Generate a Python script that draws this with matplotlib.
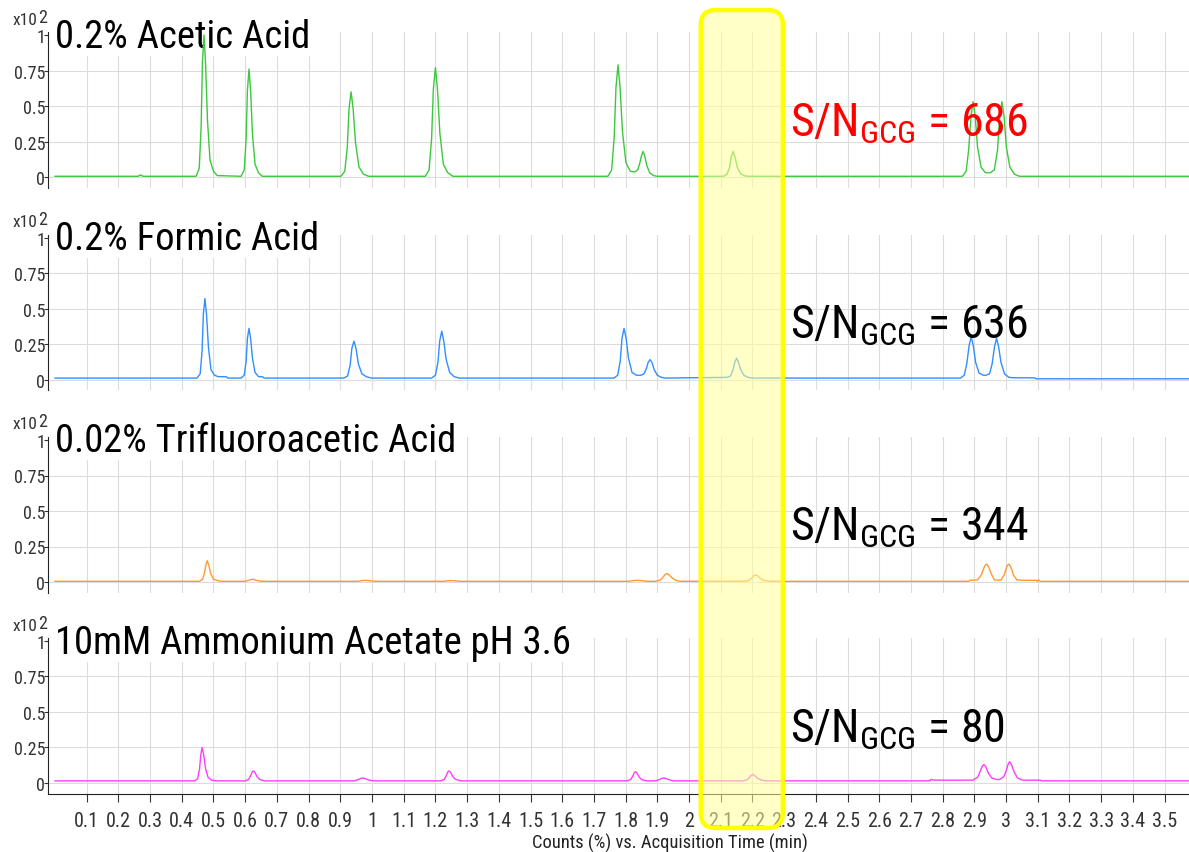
import matplotlib
matplotlib.use("Agg")
import matplotlib.pyplot as plt
from matplotlib.patches import FancyBboxPatch
from matplotlib.transforms import IdentityTransform

plt.rcParams["font.family"] = ["Roboto Condensed", "DejaVu Sans"]
plt.rcParams["mathtext.fontset"] = "custom"
plt.rcParams["mathtext.rm"] = "Roboto Condensed"

# ----------------------------------------------------
# Chromatogram traces (time in min, response x10^2 counts %)
# ----------------------------------------------------
names = ["0.2% Acetic Acid", "0.2% Formic Acid",
         "0.02% Trifluoroacetic Acid", "10mM Ammonium Acetate pH 3.6"]
sn_values = [686, 636, 344, 80]
colors = ["#3cc83c", "#2f8fff", "#ff9a2e", "#ff3cff"]
sn_colors = ["#ff0000", "#000000", "#000000", "#000000"]

acetic_t = [0.000, 0.262, 0.270, 0.278,
            0.445, 0.455, 0.461, 0.465, 0.470, 0.475, 0.481, 0.489, 0.500, 0.512,
            0.587, 0.597, 0.603, 0.607, 0.612, 0.617, 0.623, 0.631, 0.642, 0.654,
            0.902, 0.914, 0.922, 0.9275, 0.934, 0.9405, 0.948, 0.959, 0.973, 0.989,
            1.168, 1.180, 1.188, 1.1935, 1.200, 1.2065, 1.214, 1.225, 1.239, 1.255,
            1.744, 1.756, 1.764, 1.7695, 1.776, 1.7825, 1.790, 1.801, 1.815,
            1.828, 1.838, 1.845, 1.850, 1.855, 1.860, 1.867, 1.876, 1.888, 1.900,
            2.109, 2.120, 2.128, 2.133, 2.139, 2.145, 2.152, 2.162, 2.175, 2.188,
            2.862, 2.874, 2.882, 2.8895, 2.896, 2.9025, 2.910, 2.921, 2.935,
            2.950, 2.963, 2.973, 2.980, 2.987, 2.9935, 3.001, 3.012, 3.026, 3.042,
            3.580]
acetic_y = [0.005, 0.005, 0.015, 0.005,
            0.005, 0.06, 0.35, 0.80, 1.00, 0.80, 0.40, 0.12, 0.04, 0.01,
            0.005, 0.05, 0.27, 0.61, 0.76, 0.61, 0.30, 0.09, 0.03, 0.005,
            0.005, 0.04, 0.21, 0.48, 0.60, 0.48, 0.24, 0.07, 0.02, 0.005,
            0.005, 0.05, 0.27, 0.62, 0.77, 0.62, 0.31, 0.09, 0.03, 0.005,
            0.005, 0.05, 0.28, 0.63, 0.79, 0.63, 0.32, 0.10, 0.04,
            0.035, 0.05, 0.10, 0.15, 0.18, 0.15, 0.08, 0.03, 0.01, 0.005,
            0.005, 0.02, 0.07, 0.14, 0.18, 0.14, 0.07, 0.025, 0.008, 0.005,
            0.005, 0.04, 0.19, 0.43, 0.53, 0.43, 0.21, 0.07, 0.03,
            0.03, 0.05, 0.19, 0.43, 0.53, 0.43, 0.21, 0.07, 0.02, 0.005,
            0.005]

formic_t = [0.000,
            0.448, 0.458, 0.464, 0.468, 0.473, 0.478, 0.484, 0.492, 0.503, 0.515, 0.540, 0.545,
            0.587, 0.597, 0.603, 0.607, 0.612, 0.617, 0.623, 0.631, 0.642, 0.654, 0.660,
            0.911, 0.923, 0.931, 0.9365, 0.943, 0.9495, 0.957, 0.968, 0.982, 0.998,
            1.188, 1.200, 1.208, 1.2135, 1.220, 1.2265, 1.234, 1.245, 1.259, 1.275,
            1.763, 1.775, 1.783, 1.7885, 1.795, 1.8015, 1.809, 1.820, 1.834,
            1.848, 1.858, 1.866, 1.871, 1.877, 1.883, 1.890, 1.900, 1.913, 1.925,
            2.120, 2.131, 2.139, 2.144, 2.150, 2.156, 2.163, 2.173, 2.186, 2.199,
            2.856, 2.868, 2.876, 2.8835, 2.890, 2.8965, 2.904, 2.915, 2.928,
            2.936, 2.948, 2.956, 2.9635, 2.970, 2.9765, 2.984, 2.995, 3.009, 3.025,
            3.090, 3.095, 3.580]
formic_y = [0.01,
            0.01, 0.04, 0.20, 0.46, 0.57, 0.46, 0.23, 0.07, 0.03, 0.02, 0.02, 0.01,
            0.01, 0.03, 0.13, 0.29, 0.36, 0.29, 0.15, 0.05, 0.02, 0.02, 0.01,
            0.01, 0.025, 0.10, 0.22, 0.27, 0.22, 0.11, 0.04, 0.02, 0.01,
            0.01, 0.03, 0.12, 0.27, 0.34, 0.27, 0.14, 0.05, 0.02, 0.01,
            0.01, 0.03, 0.13, 0.29, 0.36, 0.29, 0.15, 0.05, 0.03,
            0.03, 0.04, 0.08, 0.12, 0.14, 0.12, 0.07, 0.03, 0.015, 0.01,
            0.015, 0.025, 0.07, 0.12, 0.15, 0.12, 0.07, 0.03, 0.015, 0.01,
            0.01, 0.03, 0.11, 0.24, 0.30, 0.24, 0.12, 0.045, 0.03,
            0.03, 0.04, 0.11, 0.23, 0.29, 0.23, 0.12, 0.04, 0.015, 0.012,
            0.012, 0.005, 0.005]

tfa_t = [0.000,
         0.456, 0.466, 0.472, 0.476, 0.480, 0.485, 0.491, 0.500, 0.512, 0.525,
         0.600, 0.615, 0.625, 0.635, 0.650,
         0.955, 0.970, 0.980, 0.995, 1.010,
         1.225, 1.240, 1.250, 1.265, 1.280,
         1.810, 1.825, 1.835, 1.850, 1.865,
         1.895, 1.910, 1.918, 1.924, 1.930, 1.937, 1.946, 1.958, 1.972,
         2.175, 2.190, 2.199, 2.205, 2.210, 2.216, 2.225, 2.237, 2.252,
         2.883, 2.886, 2.910, 2.922, 2.930, 2.935, 2.940, 2.946, 2.953, 2.963,
         2.975, 2.985, 2.994, 3.001, 3.006, 3.010, 3.016, 3.023, 3.034, 3.050,
         3.095, 3.098, 3.103, 3.108, 3.580]
tfa_y = [0.005,
         0.005, 0.02, 0.07, 0.12, 0.15, 0.12, 0.06, 0.02, 0.01, 0.005,
         0.005, 0.015, 0.02, 0.012, 0.005,
         0.005, 0.010, 0.012, 0.008, 0.005,
         0.005, 0.009, 0.010, 0.008, 0.005,
         0.005, 0.010, 0.012, 0.010, 0.005,
         0.005, 0.015, 0.035, 0.052, 0.06, 0.05, 0.03, 0.012, 0.005,
         0.005, 0.012, 0.03, 0.045, 0.05, 0.044, 0.025, 0.01, 0.005,
         0.005, 0.012, 0.015, 0.05, 0.10, 0.122, 0.125, 0.10, 0.06, 0.015,
         0.012, 0.015, 0.05, 0.10, 0.122, 0.125, 0.10, 0.05, 0.015, 0.012,
         0.012, 0.005, 0.015, 0.005, 0.005]

ammonium_t = [0.000,
              0.440, 0.450, 0.456, 0.460, 0.464, 0.469, 0.475, 0.483, 0.494, 0.510,
              0.600, 0.611, 0.618, 0.622, 0.626, 0.631, 0.637, 0.646, 0.660,
              0.945, 0.958, 0.965, 0.970, 0.977, 0.988, 1.005,
              1.216, 1.228, 1.235, 1.239, 1.243, 1.248, 1.255, 1.264, 1.280,
              1.805, 1.816, 1.823, 1.827, 1.831, 1.836, 1.843, 1.852, 1.868,
              1.895, 1.908, 1.913, 1.918, 1.925, 1.935, 1.950,
              2.170, 2.183, 2.191, 2.196, 2.201, 2.207, 2.215, 2.226, 2.242,
              2.760, 2.763, 2.775, 2.778,
              2.895, 2.910, 2.918, 2.924, 2.930, 2.936, 2.944, 2.955, 2.970,
              2.980, 2.993, 3.001, 3.006, 3.011, 3.017, 3.025, 3.036, 3.052,
              3.108, 3.112, 3.580]
ammonium_y = [0.015,
              0.015, 0.03, 0.10, 0.20, 0.25, 0.20, 0.10, 0.04, 0.02, 0.015,
              0.015, 0.025, 0.055, 0.078, 0.085, 0.075, 0.045, 0.025, 0.015,
              0.015, 0.025, 0.033, 0.035, 0.032, 0.022, 0.015,
              0.015, 0.025, 0.055, 0.078, 0.085, 0.075, 0.045, 0.025, 0.015,
              0.015, 0.025, 0.05, 0.072, 0.08, 0.07, 0.04, 0.022, 0.015,
              0.015, 0.025, 0.032, 0.035, 0.033, 0.025, 0.015,
              0.015, 0.022, 0.04, 0.054, 0.06, 0.052, 0.035, 0.022, 0.015,
              0.015, 0.025, 0.02, 0.02,
              0.02, 0.04, 0.08, 0.115, 0.13, 0.115, 0.07, 0.035, 0.025,
              0.025, 0.045, 0.09, 0.13, 0.15, 0.13, 0.08, 0.035, 0.02,
              0.02, 0.015, 0.015]

traces = [(acetic_t, acetic_y), (formic_t, formic_y),
          (tfa_t, tfa_y), (ammonium_t, ammonium_y)]

x_ticks = [round(0.1 * k, 1) for k in range(1, 36)]
y_ticks = [0, 0.25, 0.5, 0.75, 1]
y_tick_labels = ["0", "0.25", "0.5", "0.75", "1"]
highlight = (2.037, 2.296)   # retention window of interest (min)

# ----------------------------------------------------
# Layout (pixels)
# ----------------------------------------------------
W, H = 1189, 853
LEFT = 48
ZERO_PX = [178, 380.5, 583, 784]
UNIT_PX = 142
YLIM = (-0.077, 1.02)
XLIM = (-0.022, 3.577)
STEP = 202


def fy(px):
    return 1 - px / H


fig = plt.figure(figsize=(W / 100, H / 100), dpi=100)

axes = []
for i, (t, y) in enumerate(traces):
    y0 = ZERO_PX[i]
    bottom = fy(y0 - YLIM[0] * UNIT_PX)
    height = (YLIM[1] - YLIM[0]) * UNIT_PX / H
    ax = fig.add_axes([LEFT / W, bottom, 1 - LEFT / W, height])
    ax.plot(t, y, color=colors[i], lw=1.0, zorder=2)
    ax.set_xlim(*XLIM)
    ax.set_ylim(*YLIM)
    ax.set_yticks(y_ticks)
    ax.set_yticklabels(y_tick_labels)
    ax.set_xticks(x_ticks)
    ax.grid(True, color="#dcdcdc", lw=0.8)
    ax.yaxis.get_gridlines()[-1].set_visible(False)
    ax.set_axisbelow(True)
    for s in ["top", "right"]:
        ax.spines[s].set_visible(False)
    ax.spines["left"].set_color("#222222")
    ax.tick_params(axis="y", length=3, pad=-1, labelsize=13,
                   colors="#333333")
    if i < 3:
        ax.spines["bottom"].set_visible(False)
        ax.tick_params(axis="x", bottom=False, labelbottom=False)
    else:
        ax.spines["bottom"].set_color("#222222")
        ax.set_xticklabels([f"{v:g}" for v in x_ticks])
        ax.tick_params(axis="x", length=6, pad=6, labelsize=14.5,
                       colors="#333333")
    axes.append(ax)

    # panel title sits between the grid and the trace
    ax.text(55 / W, fy(48 + STEP * i), names[i], fontsize=27.8,
            va="baseline", ha="left", transform=fig.transFigure,
            zorder=1.5, clip_on=False,
            bbox=dict(facecolor="white", edgecolor="none", pad=0.5))
    fig.text(13 / W, fy(25 + STEP * i), "x10", fontsize=12.5,
             color="#333333", va="baseline")
    fig.text(38 / W, fy(23 + STEP * i), "2", fontsize=13,
             color="#333333", va="baseline")
    fig.text(790 / W, fy(137 + STEP * i),
             rf"S/N$_{{\mathrm{{GCG}}}}$ = {sn_values[i]}",
             fontsize=33, va="baseline", ha="left", color=sn_colors[i])

fig.text(670 / W, fy(843), "Counts (%) vs. Acquisition Time (min)",
         ha="center", va="center", fontsize=13.3, color="#222222")

# highlighted retention window spanning all panels
xs = axes[-1].transData.transform([(highlight[0], 0), (highlight[1], 0)])[:, 0]
box = FancyBboxPatch((xs[0], H - 829), xs[1] - xs[0], 829 - 11,
                     boxstyle="round,pad=0,rounding_size=15",
                     transform=IdentityTransform(),
                     facecolor=(1, 1, 0.6, 0.55), edgecolor="#ffff00",
                     lw=3.2, zorder=5)
fig.add_artist(box)

fig.savefig("out.png", dpi=100)
